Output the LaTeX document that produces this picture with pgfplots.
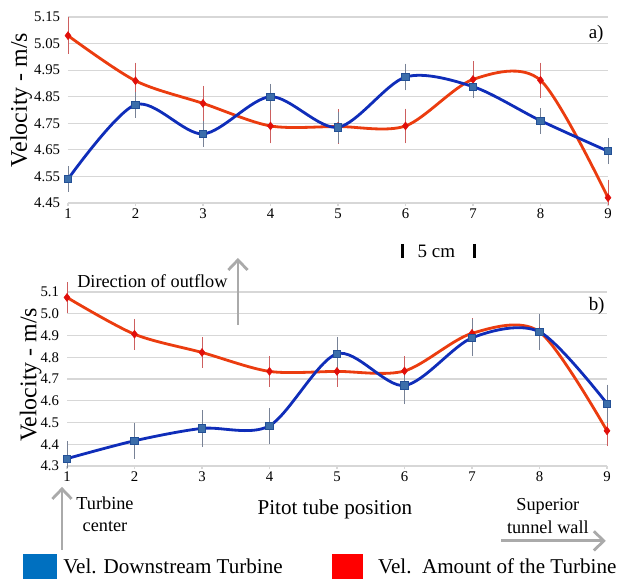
\documentclass[border=0pt]{standalone}
\usepackage{fontspec}
\setmainfont{Liberation Serif}
\usepackage{pgfplots}
\pgfplotsset{compat=1.18}
\usetikzlibrary{arrows.meta}

\definecolor{lineBlue}{RGB}{15,45,185}
\definecolor{lineRed}{RGB}{235,60,15}
\definecolor{markBlue}{RGB}{60,110,170}
\definecolor{markBlueEdge}{RGB}{35,80,150}
\definecolor{markRed}{RGB}{225,15,10}
\definecolor{errRed}{RGB}{205,95,95}
\definecolor{errBlue}{RGB}{120,130,150}
\definecolor{gridGray}{RGB}{215,215,215}
\definecolor{arrowGray}{RGB}{170,170,170}
\definecolor{legBlue}{RGB}{0,112,192}
\definecolor{legRed}{RGB}{255,0,0}

\pgfplotsset{
  velaxis/.style={
    scale only axis,
    width=13.5cm,
    anchor=south west,
    xmin=1, xmax=9,
    xtick={1,...,9},
    ymajorgrids,
    grid style={draw=gridGray, line width=0.8pt},
    axis x line*=bottom,
    axis y line*=left,
    y axis line style={draw=none},
    x axis line style={draw=gridGray, line width=0.8pt, -},
    ytick style={draw=none},
    xtick style={draw=gridGray, line width=0.8pt},
    major tick length=0.075cm,
    tick align=outside,
    clip=false,
    tick label style={font=\fontsize{10.5}{12}\selectfont},
    /pgf/number format/assume math mode=true,
    xticklabel style={inner sep=1.5pt},
  },
  redline/.style={
    lineRed, line width=2pt, smooth,
    mark=diamond*, mark size=2.8pt,
    mark options={fill=markRed, draw=markRed, line width=0.4pt},
    error bars/.cd, y dir=both, y explicit,
    error bar style={errRed, line width=0.7pt},
    error mark options={errRed, mark size=1.6pt, line width=0.7pt},
  },
  blueline/.style={
    lineBlue, line width=2pt, smooth,
    mark=square*, mark size=2.6pt,
    mark options={fill=markBlue, draw=markBlueEdge, line width=0.6pt},
    error bars/.cd, y dir=both, y explicit,
    error bar style={errBlue, line width=0.7pt},
    error mark options={errBlue, mark size=1.6pt, line width=0.7pt},
  },
}

\begin{document}
\begin{tikzpicture}
\useasboundingbox (0,0) rectangle (15.75cm,-14.475cm);

% ---------------- a) ----------------
\begin{axis}[
  velaxis,
  at={(1.7cm,-5.075cm)},
  height=4.65cm,
  ymin=4.45, ymax=5.15,
  ytick={4.45,4.55,...,5.16},
  yticklabel style={/pgf/number format/.cd, fixed, fixed zerofill, precision=2},
]
\addplot[redline] coordinates {
  (1,5.080) +- (0,0.060)
  (2,4.910) +- (0,0.060)
  (3,4.825) +- (0,0.057)
  (4,4.740) +- (0,0.057)
  (5,4.738) +- (0,0.057)
  (6,4.740) +- (0,0.057)
  (7,4.915) +- (0,0.060)
  (8,4.912) +- (0,0.058)
  (9,4.470) += (0,0.060) -= (0,0.020)
};
\addplot[blueline] coordinates {
  (1,4.540) +- (0,0.040)
  (2,4.820) +- (0,0.040)
  (3,4.710) +- (0,0.040)
  (4,4.850) +- (0,0.040)
  (5,4.735) +- (0,0.050)
  (6,4.924) +- (0,0.042)
  (7,4.888) +- (0,0.035)
  (8,4.760) +- (0,0.040)
  (9,4.645) +- (0,0.040)
};
\end{axis}

% ---------------- b) ----------------
\begin{axis}[
  velaxis,
  at={(1.675cm,-11.65cm)},
  height=4.35cm,
  ymin=4.3, ymax=5.1,
  ytick={4.3,4.4,...,5.11},
  yticklabel style={/pgf/number format/.cd, fixed, fixed zerofill, precision=1},
]
\addplot[redline] coordinates {
  (1,5.075) +- (0,0.060)
  (2,4.906) +- (0,0.060)
  (3,4.822) +- (0,0.060)
  (4,4.735) +- (0,0.060)
  (5,4.735) +- (0,0.060)
  (6,4.737) +- (0,0.058)
  (7,4.910) +- (0,0.060)
  (8,4.917) +- (0,0.060)
  (9,4.462) +- (0,0.060)
};
\addplot[blueline] coordinates {
  (1,4.334) += (0,0.070) -= (0,0.034)
  (2,4.416) +- (0,0.073)
  (3,4.473) +- (0,0.073)
  (4,4.485) +- (0,0.072)
  (5,4.816) +- (0,0.067)
  (6,4.670) +- (0,0.075)
  (7,4.889) +- (0,0.075)
  (8,4.917) +- (0,0.073)
  (9,4.587) +- (0,0.077)
};
\end{axis}

% ---------------- labels and annotations (pixel grid) ----------------
\begin{scope}[x=0.025cm,y=-0.025cm]
  \node[rotate=90, anchor=base, font=\fontsize{17}{20}\selectfont] at (27,100) {Velocity - m/s};
  \node[rotate=90, anchor=base, font=\fontsize{17}{20}\selectfont] at (36.5,375) {Velocity - m/s};

  \node[anchor=east, font=\fontsize{13.5}{16}\selectfont, inner sep=0pt] at (604,34) {a)};
  \node[anchor=east, font=\fontsize{13.5}{16}\selectfont, inner sep=0pt] at (605,306) {b)};

  % scale bar
  \draw[black, line width=0.08cm] (403,244) -- (403,258);
  \draw[black, line width=0.08cm] (475,244) -- (475,258);
  \node[font=\fontsize{13.5}{16}\selectfont, inner sep=0pt] at (436.5,251) {5 cm};

  % direction of outflow
  \draw[arrowGray, line width=0.07cm, -{Straight Barb[length=0.25cm,width=0.48cm]}] (238,325) -- (238,258);
  \node[anchor=west, font=\fontsize{13}{15}\selectfont, inner sep=0pt] at (77,281) {Direction of outflow};

  % turbine centre
  \draw[arrowGray, line width=0.07cm, -{Straight Barb[length=0.25cm,width=0.48cm]}] (62,550) -- (62,487);
  \node[align=center, font=\fontsize{13}{15.6}\selectfont, inner sep=0pt] at (105,514) {Turbine\\center};

  \node[font=\fontsize{15}{18}\selectfont, inner sep=0pt] at (335,510) {Pitot tube position};

  % tunnel wall
  \node[align=center, font=\fontsize{13}{16.4}\selectfont, inner sep=0pt] at (548,516.5) {Superior\\tunnel wall};
  \draw[arrowGray, line width=0.07cm, -{Straight Barb[length=0.25cm,width=0.48cm]}] (501,541) -- (606,541);

  % legend
  \fill[legBlue] (23,554) rectangle (57,579);
  \node[anchor=base west, font=\fontsize{15}{18}\selectfont, inner sep=0pt] at (63,574) {Vel. Downstream Turbine};
  \fill[legRed] (332,554) rectangle (363,579);
  \node[anchor=base west, font=\fontsize{15}{18}\selectfont, inner sep=0pt] at (378,574) {Vel.\ \ Amount of the Turbine};
\end{scope}
\end{tikzpicture}
\end{document}
